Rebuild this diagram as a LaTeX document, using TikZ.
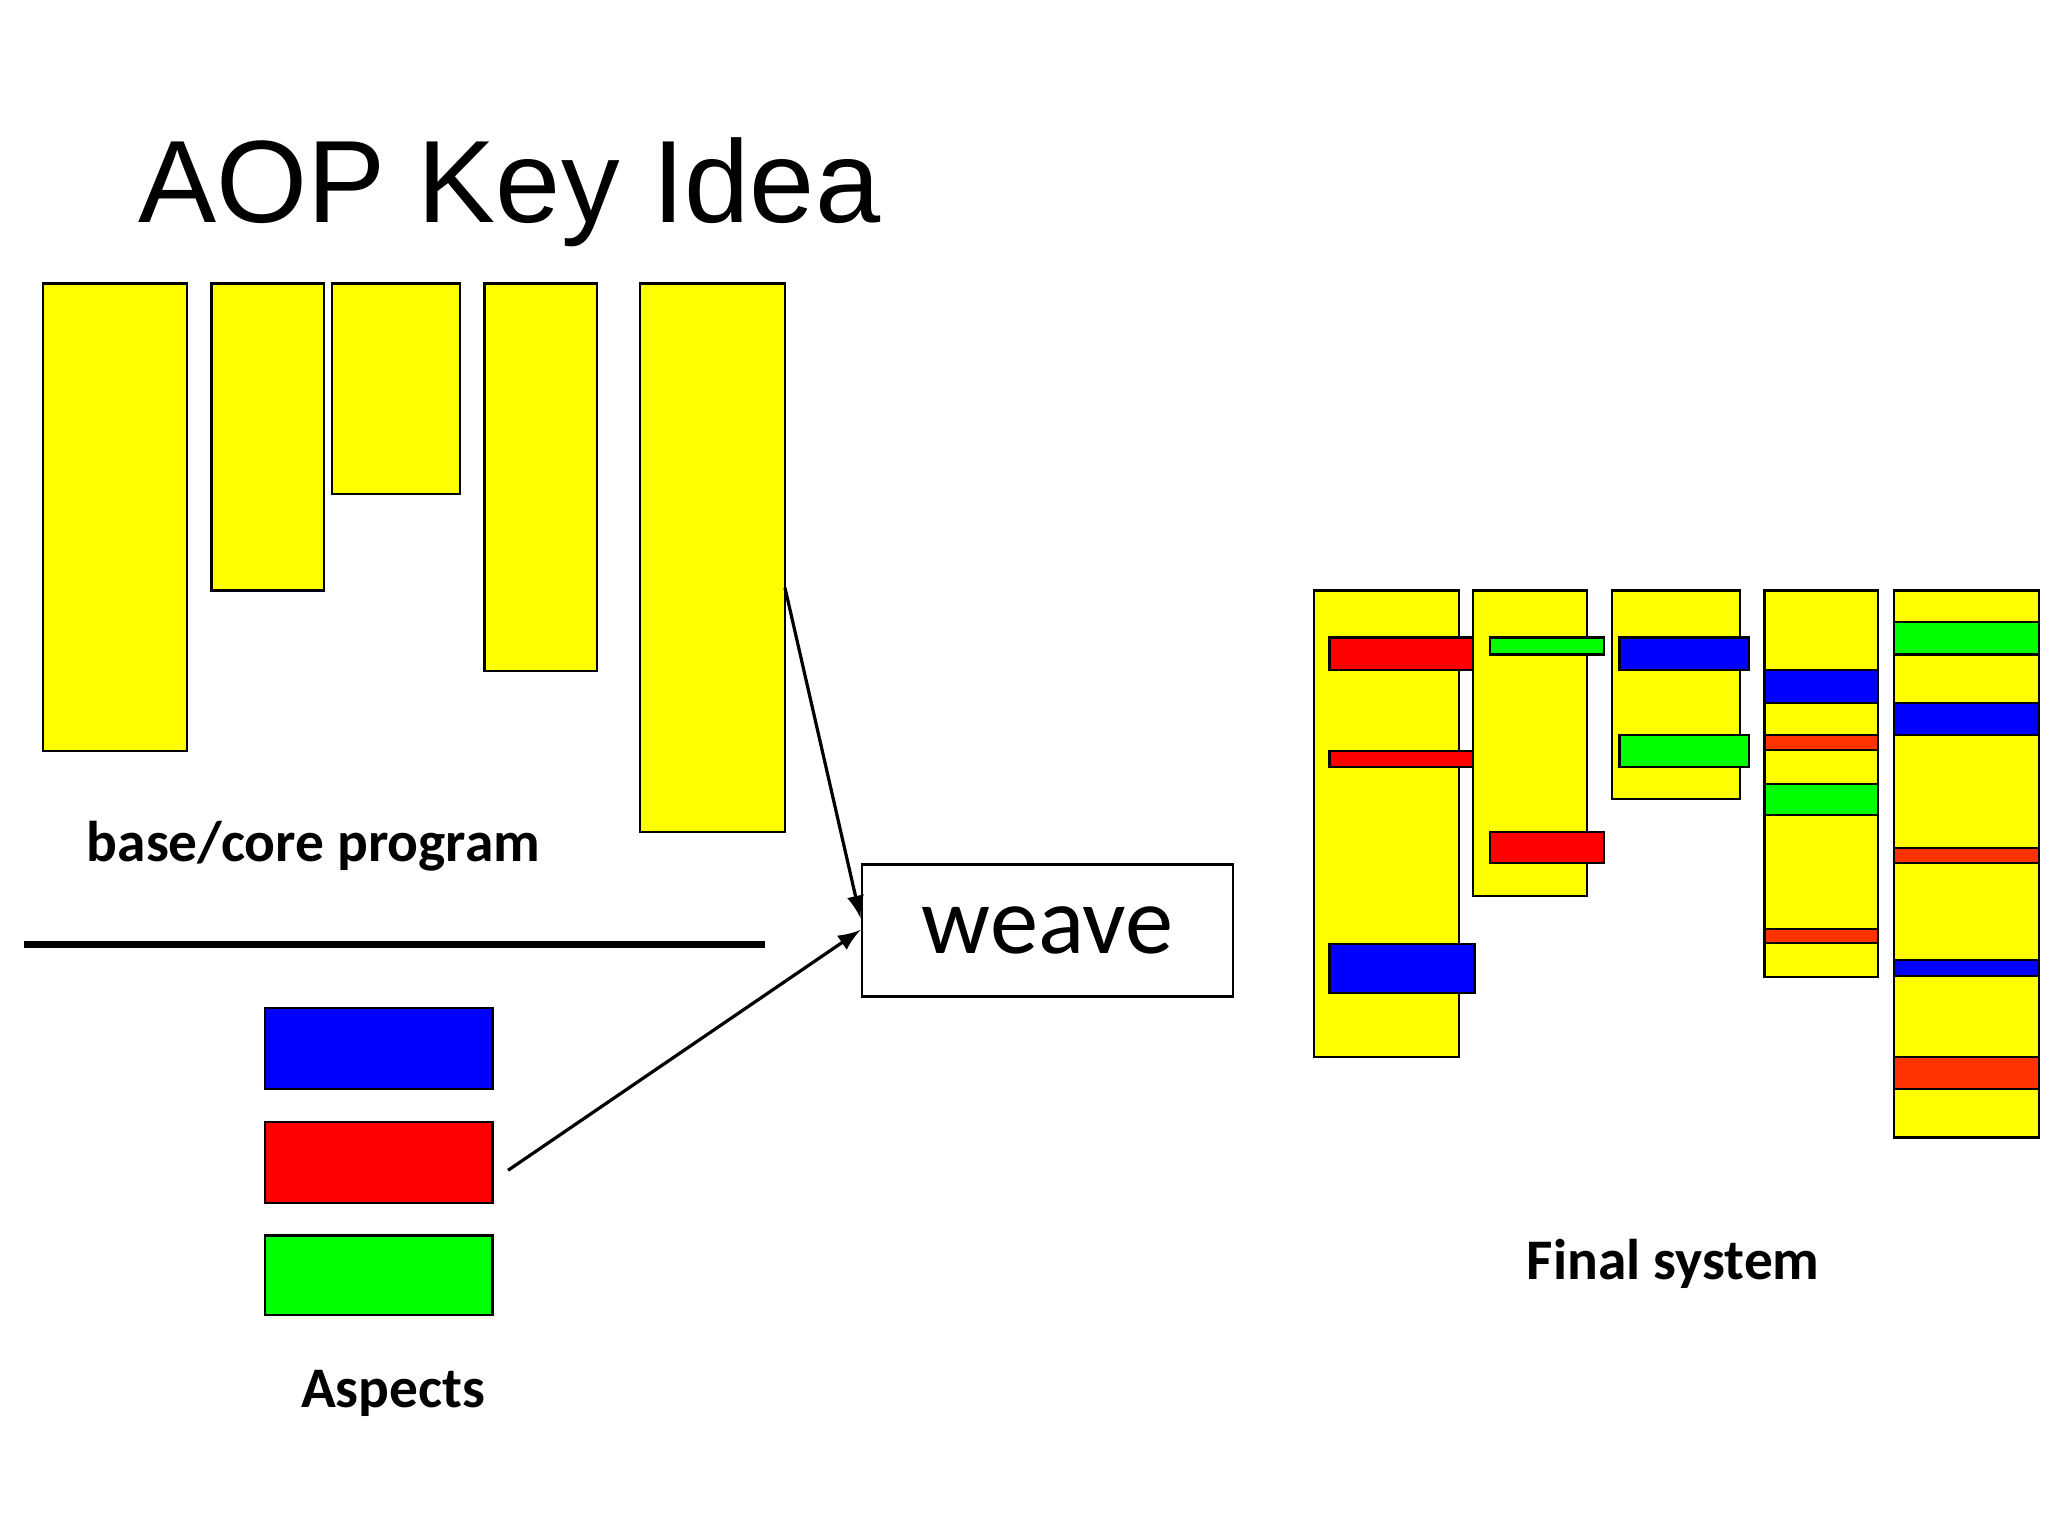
\documentclass[tikz,border=0pt]{standalone}
\usepackage{fontspec}
\setmainfont{Carlito}
\newfontfamily\arialf{Liberation Sans}
\begin{document}
\begin{tikzpicture}[x=0.01cm,y=-0.01cm,
  bx/.style={draw=black,line width=0.5pt},
  lbl/.style={font=\bfseries\fontsize{12.5}{14}\selectfont,inner sep=0}]
\useasboundingbox[fill=white] (0,0) rectangle (1568,1176);
\definecolor{ye}{HTML}{FFFF00}\definecolor{rd}{HTML}{FF0000}
\definecolor{bl}{HTML}{0000FF}\definecolor{gr}{HTML}{00FF00}\definecolor{orr}{HTML}{FF3300}
\node[anchor=base west,inner sep=0,font=\arialf\fontsize{25.5}{28}\selectfont] (title) at (105,170) {AOP Key Idea};
% base program
\draw[bx,fill=ye] (33,217) rectangle (143,575);
\draw[bx,fill=ye] (162,217) rectangle (248,452);
\draw[bx,fill=ye] (254,217) rectangle (352,378);
\draw[bx,fill=ye] (371,217) rectangle (457,514);
\draw[bx,fill=ye] (490,217) rectangle (601,637);
\coordinate (c5) at (601,450);
\node[lbl] (base) at (240,648) {base/core program};
\draw[line width=1.5pt] (18,723) -- (586,723);
% aspects
\draw[bx,fill=bl] (203,772) rectangle (377,834);
\draw[bx,fill=rd] (203,859) rectangle (377,921);
\draw[bx,fill=gr] (203,946) rectangle (377,1007);
\coordinate (asp) at (389,896);
\node[lbl] (aspects) at (301,1067) {Aspects};
% weave
\node[draw,line width=0.6pt,minimum width=2.84cm,minimum height=1.01cm,inner sep=0,
  font=\fontsize{21}{24}\selectfont] (weave) at (802,712.5) {weave};
\draw[-latex,line width=0.7pt] (c5) -- (weave.west |- 0,703);
\draw[-latex,line width=0.7pt] (asp) -- (weave.west |- 0,712);
% final system
\draw[bx,fill=ye] (1006,452) rectangle (1117,809);
\draw[bx,fill=rd] (1018,488) rectangle (1129,513);
\draw[bx,fill=rd] (1018,575) rectangle (1129,587);
\draw[bx,fill=bl] (1018,723) rectangle (1129,760);
\draw[bx,fill=ye] (1128,452) rectangle (1215,686);
\draw[bx,fill=gr] (1141,488) rectangle (1228,501);
\draw[bx,fill=rd] (1141,637) rectangle (1228,661);
\draw[bx,fill=ye] (1234,452) rectangle (1332,612);
\draw[bx,fill=bl] (1240,488) rectangle (1339,513);
\draw[bx,fill=gr] (1240,563) rectangle (1339,587);
\draw[bx,fill=ye] (1351,452) rectangle (1438,748);
\draw[bx,fill=bl] (1351,513) rectangle (1438,538);
\draw[bx,fill=orr] (1351,563) rectangle (1438,574);
\draw[bx,fill=gr] (1351,600) rectangle (1438,624);
\draw[bx,fill=orr] (1351,711) rectangle (1438,722);
\draw[bx,fill=ye] (1450,452) rectangle (1561,871);
\draw[bx,fill=gr] (1450,476) rectangle (1561,501);
\draw[bx,fill=bl] (1450,538) rectangle (1561,563);
\draw[bx,fill=orr] (1450,649) rectangle (1561,661);
\draw[bx,fill=bl] (1450,735) rectangle (1561,747);
\draw[bx,fill=orr] (1450,809) rectangle (1561,834);
\node[lbl] (final) at (1281,968) {Final system};
\end{tikzpicture}
\end{document}
